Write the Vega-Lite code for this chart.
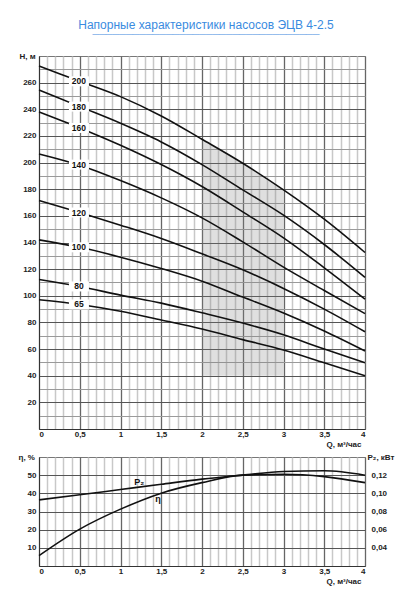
{
  "$schema": "https://vega.github.io/schema/vega-lite/v6.json",
  "padding": {"left": 17, "top": 18, "right": 5, "bottom": 5},
  "background": "white",
  "title": {
    "text": "Напорные характеристики насосов ЭЦВ 4-2.5",
    "subtitle": "__________________________________",
    "font": "Liberation Sans",
    "fontSize": 12,
    "fontWeight": "normal",
    "color": "#3a8be0",
    "subtitleFont": "Liberation Sans",
    "subtitleFontSize": 12,
    "subtitleFontWeight": "bold",
    "subtitleColor": "#3a8be0",
    "subtitlePadding": -8,
    "anchor": "middle",
    "offset": 16
  },
  "config": {
    "font": "Liberation Sans",
    "view": {"stroke": "#777"},
    "axis": {
      "labelFont": "Liberation Sans",
      "labelFontWeight": "bold",
      "labelFontSize": 8,
      "labelColor": "#222",
      "titleFont": "Liberation Sans",
      "titleFontWeight": "bold",
      "titleFontSize": 8,
      "titleColor": "#222",
      "ticks": false
    }
  },
  "datasets": {
    "head": [
      {"n": "200", "Q": 0, "H": 272.5}, {"n": "200", "Q": 0.5, "H": 261}, {"n": "200", "Q": 1, "H": 249.5},
      {"n": "200", "Q": 1.5, "H": 235}, {"n": "200", "Q": 2, "H": 217.5}, {"n": "200", "Q": 2.5, "H": 199.5},
      {"n": "200", "Q": 3, "H": 179.5}, {"n": "200", "Q": 3.5, "H": 157.5}, {"n": "200", "Q": 4, "H": 132.5},
      {"n": "180", "Q": 0, "H": 254.5}, {"n": "180", "Q": 0.5, "H": 242}, {"n": "180", "Q": 1, "H": 229.5},
      {"n": "180", "Q": 1.5, "H": 215.5}, {"n": "180", "Q": 2, "H": 198.5}, {"n": "180", "Q": 2.5, "H": 179.5},
      {"n": "180", "Q": 3, "H": 160.5}, {"n": "180", "Q": 3.5, "H": 138.5}, {"n": "180", "Q": 4, "H": 113.8},
      {"n": "160", "Q": 0, "H": 238}, {"n": "160", "Q": 0.5, "H": 226}, {"n": "160", "Q": 1, "H": 213},
      {"n": "160", "Q": 1.5, "H": 198.5}, {"n": "160", "Q": 2, "H": 182}, {"n": "160", "Q": 2.5, "H": 163},
      {"n": "160", "Q": 3, "H": 143.5}, {"n": "160", "Q": 3.5, "H": 121}, {"n": "160", "Q": 4, "H": 97.5},
      {"n": "140", "Q": 0, "H": 206.5}, {"n": "140", "Q": 0.5, "H": 198}, {"n": "140", "Q": 1, "H": 186.5},
      {"n": "140", "Q": 1.5, "H": 173.5}, {"n": "140", "Q": 2, "H": 158.5}, {"n": "140", "Q": 2.5, "H": 140.5},
      {"n": "140", "Q": 3, "H": 121.5}, {"n": "140", "Q": 3.5, "H": 104}, {"n": "140", "Q": 4, "H": 86.6},
      {"n": "120", "Q": 0, "H": 171.5}, {"n": "120", "Q": 0.5, "H": 162.5}, {"n": "120", "Q": 1, "H": 153},
      {"n": "120", "Q": 1.5, "H": 143}, {"n": "120", "Q": 2, "H": 131.5}, {"n": "120", "Q": 2.5, "H": 119.5},
      {"n": "120", "Q": 3, "H": 105.5}, {"n": "120", "Q": 3.5, "H": 90}, {"n": "120", "Q": 4, "H": 73},
      {"n": "100", "Q": 0, "H": 142}, {"n": "100", "Q": 0.5, "H": 136.4}, {"n": "100", "Q": 1, "H": 129},
      {"n": "100", "Q": 1.5, "H": 120.5}, {"n": "100", "Q": 2, "H": 111}, {"n": "100", "Q": 2.5, "H": 99},
      {"n": "100", "Q": 3, "H": 87}, {"n": "100", "Q": 3.5, "H": 73.5}, {"n": "100", "Q": 4, "H": 58.5},
      {"n": "80", "Q": 0, "H": 112.3}, {"n": "80", "Q": 0.5, "H": 107}, {"n": "80", "Q": 1, "H": 100.5},
      {"n": "80", "Q": 1.5, "H": 94.5}, {"n": "80", "Q": 2, "H": 87.2}, {"n": "80", "Q": 2.5, "H": 79.5},
      {"n": "80", "Q": 3, "H": 70.7}, {"n": "80", "Q": 3.5, "H": 60}, {"n": "80", "Q": 4, "H": 49.7},
      {"n": "65", "Q": 0, "H": 97}, {"n": "65", "Q": 0.5, "H": 93.5}, {"n": "65", "Q": 1, "H": 88.4},
      {"n": "65", "Q": 1.5, "H": 81.8}, {"n": "65", "Q": 2, "H": 75}, {"n": "65", "Q": 2.5, "H": 67.1},
      {"n": "65", "Q": 3, "H": 59.3}, {"n": "65", "Q": 3.5, "H": 49.7}, {"n": "65", "Q": 4, "H": 40}
    ],
    "headLabels": [
      {"n": "200", "Q": 0.49, "H": 261},
      {"n": "180", "Q": 0.49, "H": 242},
      {"n": "160", "Q": 0.49, "H": 226},
      {"n": "140", "Q": 0.49, "H": 198.5},
      {"n": "120", "Q": 0.49, "H": 162.5},
      {"n": "100", "Q": 0.49, "H": 136.4},
      {"n": "80", "Q": 0.49, "H": 107},
      {"n": "65", "Q": 0.49, "H": 93.5}
    ],
    "eff": [
      {"Q": 0, "eta": 5.7, "P2": 0.0928},
      {"Q": 0.5, "eta": 20.3, "P2": 0.0984},
      {"Q": 1, "eta": 31.3, "P2": 0.1042},
      {"Q": 1.5, "eta": 40.1, "P2": 0.11},
      {"Q": 2, "eta": 45.9, "P2": 0.1156},
      {"Q": 2.5, "eta": 50, "P2": 0.12},
      {"Q": 3, "eta": 50.5, "P2": 0.124},
      {"Q": 3.5, "eta": 49.2, "P2": 0.1248},
      {"Q": 4, "eta": 45.9, "P2": 0.12}
    ],
    "effLabels": [
      {"t": "P₂", "Q": 1.23, "eta": 46.2},
      {"t": "η", "Q": 1.46, "eta": 36.8}
    ]
  },
  "vconcat": [
    {
      "width": 326,
      "height": 373,
      "layer": [
        {
          "data": {"name": "head"},
          "transform": [{"filter": "datum.n == '200' && datum.Q >= 2 && datum.Q <= 3"}],
          "mark": {"type": "area", "interpolate": "monotone", "color": "#808080", "opacity": 0.25},
          "encoding": {
            "x": {
              "field": "Q", "type": "quantitative",
              "scale": {"domain": [0, 4], "nice": false},
              "axis": {
                "orient": "bottom", "title": null, "labels": false, "domain": false,
                "grid": true, "gridColor": "#c8c8c8", "gridWidth": 1.5,
                "values": [0.1, 0.2, 0.3, 0.4, 0.6, 0.7, 0.8, 0.9, 1.1, 1.2, 1.3, 1.4, 1.6, 1.7, 1.8, 1.9, 2.1, 2.2, 2.3, 2.4, 2.6, 2.7, 2.8, 2.9, 3.1, 3.2, 3.3, 3.4, 3.6, 3.7, 3.8, 3.9]
              }
            },
            "y": {
              "field": "H", "type": "quantitative",
              "scale": {"domain": [0, 280], "nice": false},
              "axis": {
                "orient": "left", "title": null, "labels": false, "domain": false,
                "grid": true, "gridColor": "#9a9a9a", "gridWidth": 1,
                "values": [10, 30, 50, 70, 90, 110, 130, 150, 170, 190, 210, 230, 250, 270]
              }
            },
            "y2": {"datum": 40}
          }
        },
        {
          "data": {"name": "head"},
          "mark": {"type": "line", "interpolate": "monotone", "color": "#111", "strokeWidth": 1.6},
          "encoding": {
            "x": {
              "field": "Q", "type": "quantitative",
              "axis": {
                "orient": "bottom", "grid": true, "gridColor": "#666", "gridWidth": 1.3,
                "domainColor": "#333", "labelPadding": 1,
                "values": [0, 0.5, 1, 1.5, 2, 2.5, 3, 3.5, 4],
                "labelExpr": "replace(format(datum.value, '~g'), '.', ',')",
                "title": "Q, м³/час", "titleX": 322, "titleY": 15,
                "titleAlign": "right", "titleBaseline": "middle"
              }
            },
            "y": {
              "field": "H", "type": "quantitative",
              "axis": {
                "orient": "left", "grid": true, "gridColor": "#555", "gridWidth": 1.2,
                "domainColor": "#333", "labelPadding": 3,
                "values": [20, 40, 60, 80, 100, 120, 140, 160, 180, 200, 220, 240, 260],
                "title": "Н, м", "titleAngle": 0, "titleX": -20, "titleY": 0,
                "titleAlign": "left", "titleBaseline": "middle"
              }
            },
            "detail": {"field": "n"}
          }
        },
        {
          "data": {"name": "headLabels"},
          "mark": {"type": "point", "shape": "M-1,-0.5H1V0.5H-1Z", "size": 400, "filled": true, "color": "white", "opacity": 1, "strokeWidth": 0},
          "encoding": {
            "x": {"field": "Q", "type": "quantitative", "axis": null},
            "y": {"field": "H", "type": "quantitative", "axis": null}
          }
        },
        {
          "data": {"name": "headLabels"},
          "mark": {"type": "text", "font": "Liberation Sans", "fontWeight": "bold", "fontSize": 8.5, "color": "#111"},
          "encoding": {
            "x": {"field": "Q", "type": "quantitative", "axis": null},
            "y": {"field": "H", "type": "quantitative", "axis": null},
            "text": {"field": "n"}
          }
        }
      ],
      "resolve": {"axis": {"x": "independent", "y": "independent"}}
    },
    {
      "width": 326,
      "height": 109,
      "data": {"name": "eff"},
      "layer": [
        {
          "mark": {"type": "line", "interpolate": "monotone", "color": "#111", "strokeWidth": 1.6},
          "encoding": {
            "x": {
              "field": "Q", "type": "quantitative",
              "scale": {"domain": [0, 4], "nice": false},
              "axis": {
                "orient": "bottom", "title": null, "labels": false, "domain": false,
                "grid": true, "gridColor": "#c8c8c8", "gridWidth": 1.5,
                "values": [0.1, 0.2, 0.3, 0.4, 0.6, 0.7, 0.8, 0.9, 1.1, 1.2, 1.3, 1.4, 1.6, 1.7, 1.8, 1.9, 2.1, 2.2, 2.3, 2.4, 2.6, 2.7, 2.8, 2.9, 3.1, 3.2, 3.3, 3.4, 3.6, 3.7, 3.8, 3.9]
              }
            },
            "y": {
              "field": "eta", "type": "quantitative",
              "scale": {"domain": [0, 60], "nice": false},
              "axis": {
                "orient": "left", "grid": true, "gridColor": "#555", "gridWidth": 1.2,
                "domainColor": "#333", "labelPadding": 3,
                "values": [10, 20, 30, 40, 50],
                "title": "η, %", "titleAngle": 0, "titleX": -21, "titleY": 0,
                "titleAlign": "left", "titleBaseline": "middle"
              }
            }
          }
        },
        {
          "mark": {"type": "line", "interpolate": "monotone", "color": "#111", "strokeWidth": 1.6},
          "encoding": {
            "x": {
              "field": "Q", "type": "quantitative",
              "axis": {
                "orient": "bottom", "grid": true, "gridColor": "#666", "gridWidth": 1.3,
                "domainColor": "#333", "labelPadding": 1,
                "values": [0, 0.5, 1, 1.5, 2, 2.5, 3, 3.5, 4],
                "labelExpr": "replace(format(datum.value, '~g'), '.', ',')",
                "title": "Q, м³/час", "titleX": 322, "titleY": 15,
                "titleAlign": "right", "titleBaseline": "middle"
              }
            },
            "y": {
              "field": "P2", "type": "quantitative",
              "scale": {"domain": [0.02, 0.14], "nice": false},
              "axis": {
                "orient": "right", "grid": false, "domain": false, "labelPadding": 6,
                "values": [0.04, 0.06, 0.08, 0.1, 0.12],
                "labelExpr": "replace(format(datum.value, '.2f'), '.', ',')",
                "title": "P₂, кВт", "titleAngle": 0, "titleX": 2, "titleY": 0,
                "titleAlign": "left", "titleBaseline": "middle"
              }
            }
          }
        },
        {
          "data": {"name": "effLabels"},
          "mark": {"type": "text", "font": "Liberation Sans", "fontWeight": "bold", "fontSize": 9, "color": "#111"},
          "encoding": {
            "x": {"field": "Q", "type": "quantitative", "axis": null},
            "y": {"field": "eta", "type": "quantitative", "scale": {"domain": [0, 60], "nice": false}, "axis": null},
            "text": {"field": "t"}
          }
        }
      ],
      "resolve": {"axis": {"x": "independent"}, "scale": {"y": "independent"}}
    }
  ],
  "bounds": "flush",
  "spacing": 28
}
